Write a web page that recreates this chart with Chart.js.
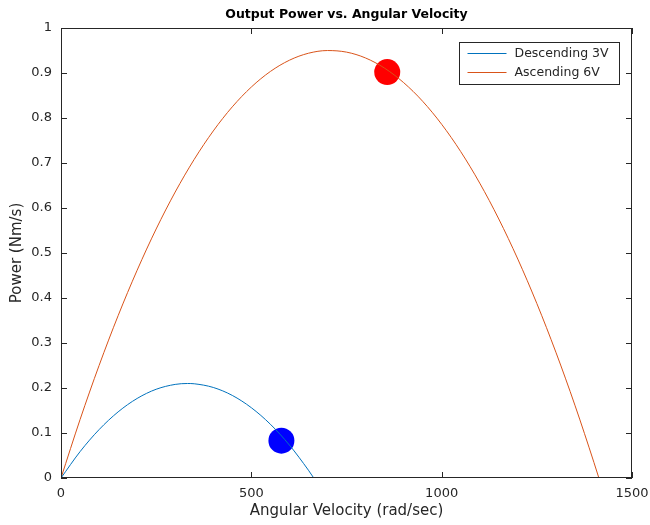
<!DOCTYPE html>
<html>
<head>
<meta charset="utf-8">
<script src="https://cdn.jsdelivr.net/npm/chart.js@4"></script>
<style>
  body { margin: 0; background: #fff; }
  #wrap { width: 650px; height: 525px; }
</style>
</head>
<body>
<div id="wrap"><canvas id="myChart" width="650" height="525"></canvas></div>
<script>
// values
const descX = [0, 50, 100, 150, 200, 250, 300, 332, 350, 400, 450, 500, 550, 600, 650, 664];
const descY = [0, 0.0585, 0.1075, 0.1469, 0.1768, 0.1972, 0.2080, 0.2100, 0.2094, 0.2012, 0.1835, 0.1562, 0.1195, 0.0732, 0.0173, 0];
const ascX = [0, 50, 100, 150, 200, 250, 300, 350, 400, 450, 500, 550, 600, 650, 700, 750,
	800, 850, 900, 950, 1000, 1050, 1100, 1150, 1200, 1250, 1300, 1350, 1400, 1413];
const ascY = [0, 0.1297, 0.2499, 0.3606, 0.4617, 0.5534, 0.6355, 0.7081, 0.7712, 0.8248, 0.8688, 0.9034, 0.9284, 0.9439, 0.9499, 0.9464,
	0.9334, 0.9108, 0.8787, 0.8372, 0.7860, 0.7254, 0.6553, 0.5756, 0.4865, 0.3878, 0.2796, 0.1619, 0.0346, 0];
const markerBlue = [{ x: 579, y: 0.083 }];
const markerRed = [{ x: 857, y: 0.902 }];
const xTicks = [0, 500, 1000, 1500];
const yTicks = [0, 0.1, 0.2, 0.3, 0.4, 0.5, 0.6, 0.7, 0.8, 0.9, 1];

const FONT = "'DejaVu Sans', sans-serif";
const TXT = '#262626';

function toPts(xs, ys) {
	var pts = [];
	for (let i = 0; i < xs.length; i++) pts.push({ x: xs[i], y: ys[i] });
	return pts;
}

// box round the plot, inward ticks, legend box
const boxPlugin = {
	id: 'box',
	afterDraw(chart) {
		const ctx = chart.ctx;
		const a = chart.chartArea;
		const xs = chart.scales.x, ys = chart.scales.y;
		ctx.save();
		ctx.strokeStyle = '#262626';
		ctx.lineWidth = 1;
		ctx.strokeRect(a.left + 0.5, a.top + 0.5, a.right - a.left - 1, a.bottom - a.top - 1);
		ctx.beginPath();
		xTicks.forEach(function(v) {
			const px = Math.round(xs.getPixelForValue(v)) + 0.5;
			ctx.moveTo(px, a.bottom); ctx.lineTo(px, a.bottom - 6);
			ctx.moveTo(px, a.top); ctx.lineTo(px, a.top + 6);
		});
		yTicks.forEach(function(v) {
			const py = Math.round(ys.getPixelForValue(v)) + 0.5;
			ctx.moveTo(a.left, py); ctx.lineTo(a.left + 6, py);
			ctx.moveTo(a.right, py); ctx.lineTo(a.right - 6, py);
		});
		ctx.stroke();

		// legend
		const lx = 459.5, ly = 42.5, lw = 160, lh = 42;
		ctx.fillStyle = '#fff';
		ctx.fillRect(lx, ly, lw, lh);
		ctx.strokeStyle = '#262626';
		ctx.strokeRect(lx, ly, lw, lh);
		ctx.font = '12.5px ' + FONT;
		ctx.textBaseline = 'middle';
		const items = [chart.data.datasets[0], chart.data.datasets[1]];
		items.forEach(function(ds, i) {
			const yy = ly + 11 + i * 19;
			ctx.strokeStyle = ds.borderColor;
			ctx.beginPath();
			ctx.moveTo(lx + 8, yy); ctx.lineTo(lx + 47, yy);
			ctx.stroke();
			ctx.fillStyle = TXT;
			ctx.fillText(ds.label, lx + 55, yy);
		});
		ctx.restore();
	}
};

const ctx = document.getElementById("myChart").getContext("2d");
const config = {
	type: 'scatter',
	data: {
		datasets: [
			{
				label: 'Descending 3V',
				data: toPts(descX, descY),
				showLine: true,
				borderColor: '#0072BD',
				borderWidth: 1,
				pointRadius: 0,
				cubicInterpolationMode: 'monotone'
			},
			{
				label: 'Ascending 6V',
				data: toPts(ascX, ascY),
				showLine: true,
				borderColor: '#D95319',
				borderWidth: 1,
				pointRadius: 0,
				cubicInterpolationMode: 'monotone'
			},
			{
				label: 'blue marker',
				data: markerBlue,
				pointRadius: 13,
				backgroundColor: '#0000FF',
				borderColor: '#0000FF',
				borderWidth: 0
			},
			{
				label: 'red marker',
				data: markerRed,
				pointRadius: 13,
				backgroundColor: '#FF0000',
				borderColor: '#FF0000',
				borderWidth: 0
			}
		]
	},
	options: {
		responsive: false,
		animation: false,
		layout: { padding: { left: 0, right: 18, top: 0, bottom: 0 } },
		plugins: {
			legend: { display: false },
			tooltip: { enabled: false },
			title: {
				display: true,
				fullSize: false,
				text: 'Output Power vs. Angular Velocity',
				color: '#000',
				font: { family: FONT, size: 12.5, weight: 'bold', lineHeight: 1.2 },
				padding: { top: 7, bottom: 6 }
			}
		},
		scales: {
			x: {
				type: 'linear',
				min: 0, max: 1500,
				afterBuildTicks: function(scale) { scale.ticks = xTicks.map(v => ({ value: v })); },
				afterFit: function(scale) { scale.height = 47; scale.paddingLeft = 0; scale.paddingRight = 0; },
				grid: { display: false, drawTicks: false },
				border: { display: false },
				ticks: { color: TXT, padding: 8, font: { family: FONT, size: 13 }, maxRotation: 0,
					callback: function(v) { return String(v); } },
				title: { display: true, text: 'Angular Velocity (rad/sec)', color: TXT,
					font: { family: FONT, size: 15, lineHeight: 1.2 }, padding: { top: 0, bottom: 5, left: 0, right: 0 } }
			},
			y: {
				type: 'linear',
				min: 0, max: 1,
				afterBuildTicks: function(scale) { scale.ticks = yTicks.map(v => ({ value: v })); },
				afterFit: function(scale) { scale.width = 61; },
				grid: { display: false, drawTicks: false },
				border: { display: false },
				ticks: { color: TXT, padding: 9, font: { family: FONT, size: 13 },
					callback: function(v) { return String(v); } },
				title: { display: true, text: 'Power (Nm/s)', color: TXT,
					font: { family: FONT, size: 15, lineHeight: 1.2 }, padding: { top: 8, bottom: 0, left: 0, right: 0 } }
			}
		}
	},
	plugins: [boxPlugin]
};
const myChart = new Chart(ctx, config);
</script>
</body>
</html>
